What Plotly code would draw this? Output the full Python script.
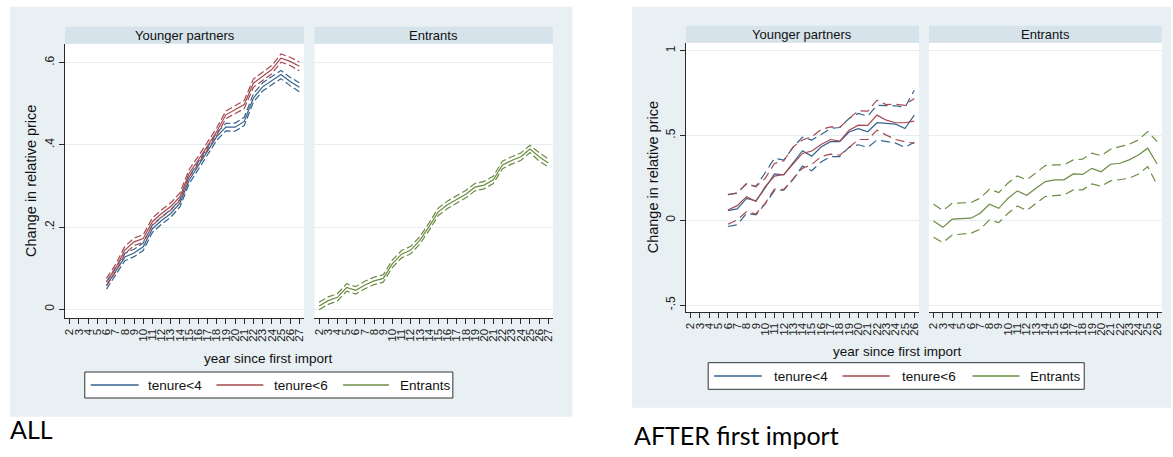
import plotly.graph_objects as go

W, H = 1173, 457

# ---------------- Data: "ALL" ----------------
years_yp_all = list(range(6, 28))
t4_all = [0.058, 0.094, 0.127, 0.137, 0.152, 0.196, 0.216, 0.233, 0.258, 0.314, 0.350,
          0.384, 0.420, 0.443, 0.443, 0.457, 0.514, 0.541, 0.557, 0.571, 0.554, 0.540]
t4_all_lo = [0.049, 0.085, 0.118, 0.128, 0.143, 0.187, 0.207, 0.224, 0.249, 0.305, 0.341,
             0.375, 0.411, 0.434, 0.433, 0.447, 0.504, 0.531, 0.547, 0.561, 0.544, 0.529]
t4_all_hi = [0.067, 0.103, 0.136, 0.146, 0.161, 0.205, 0.225, 0.242, 0.267, 0.323, 0.359,
             0.393, 0.429, 0.452, 0.453, 0.467, 0.524, 0.551, 0.567, 0.581, 0.564, 0.551]
t6_all = [0.066, 0.100, 0.144, 0.164, 0.172, 0.213, 0.233, 0.250, 0.274, 0.331, 0.363,
          0.396, 0.432, 0.473, 0.485, 0.498, 0.550, 0.567, 0.583, 0.611, 0.603, 0.591]
t6_all_lo = [0.057, 0.091, 0.135, 0.155, 0.163, 0.204, 0.224, 0.241, 0.265, 0.322, 0.354,
             0.387, 0.423, 0.464, 0.476, 0.488, 0.540, 0.557, 0.573, 0.601, 0.593, 0.580]
t6_all_hi = [0.075, 0.109, 0.153, 0.173, 0.181, 0.222, 0.242, 0.259, 0.283, 0.340, 0.372,
             0.405, 0.441, 0.482, 0.494, 0.508, 0.560, 0.577, 0.593, 0.621, 0.613, 0.602]

years_ent_all = list(range(2, 28))
ent_all = [0.008, 0.021, 0.029, 0.053, 0.046, 0.059, 0.069, 0.075, 0.111, 0.134, 0.144, 0.168, 0.201,
           0.237, 0.254, 0.268, 0.280, 0.297, 0.302, 0.315, 0.351, 0.362, 0.371, 0.390, 0.371, 0.356]
ent_all_lo = [-0.001, 0.012, 0.020, 0.044, 0.037, 0.050, 0.060, 0.066, 0.102, 0.125, 0.135, 0.159, 0.192,
              0.228, 0.245, 0.259, 0.271, 0.288, 0.293, 0.306, 0.342, 0.353, 0.362, 0.381, 0.361, 0.346]
ent_all_hi = [0.017, 0.030, 0.038, 0.062, 0.055, 0.068, 0.078, 0.084, 0.120, 0.143, 0.153, 0.177, 0.210,
              0.246, 0.263, 0.277, 0.289, 0.306, 0.311, 0.324, 0.360, 0.371, 0.380, 0.399, 0.381, 0.366]

# ---------------- Data: "AFTER first import" ----------------
years_yp_aft = list(range(6, 27))
t4_aft = [0.057, 0.067, 0.129, 0.114, 0.190, 0.273, 0.267, 0.339, 0.410, 0.378, 0.432,
          0.463, 0.463, 0.520, 0.540, 0.522, 0.575, 0.571, 0.567, 0.541, 0.620]
t4_aft_lo = [-0.037, -0.027, 0.041, 0.031, 0.096, 0.175, 0.178, 0.241, 0.320, 0.292, 0.343,
             0.375, 0.375, 0.430, 0.445, 0.430, 0.473, 0.465, 0.455, 0.430, 0.460]
t4_aft_hi = [0.153, 0.159, 0.218, 0.198, 0.280, 0.365, 0.355, 0.430, 0.490, 0.473, 0.506,
             0.541, 0.547, 0.600, 0.630, 0.614, 0.678, 0.675, 0.675, 0.665, 0.767]
t6_aft = [0.060, 0.086, 0.139, 0.110, 0.198, 0.260, 0.270, 0.335, 0.394, 0.408, 0.447,
          0.476, 0.467, 0.531, 0.561, 0.559, 0.620, 0.590, 0.575, 0.575, 0.584]
t6_aft_lo = [-0.024, 0.002, 0.051, 0.037, 0.100, 0.184, 0.182, 0.241, 0.306, 0.329, 0.375,
             0.390, 0.384, 0.429, 0.476, 0.476, 0.531, 0.502, 0.476, 0.463, 0.453]
t6_aft_hi = [0.149, 0.163, 0.214, 0.198, 0.247, 0.335, 0.351, 0.433, 0.473, 0.492, 0.535,
             0.551, 0.547, 0.600, 0.645, 0.643, 0.708, 0.682, 0.684, 0.678, 0.718]

years_ent_aft = list(range(2, 27))
ent_aft = [-0.004, -0.042, 0.006, 0.008, 0.012, 0.041, 0.094, 0.070, 0.130, 0.173, 0.147, 0.189, 0.228,
           0.238, 0.238, 0.273, 0.270, 0.306, 0.286, 0.330, 0.336, 0.356, 0.385, 0.425, 0.332]
ent_aft_lo = [-0.100, -0.132, -0.087, -0.083, -0.077, -0.053, 0.002, -0.014, 0.041, 0.084, 0.057, 0.100, 0.140,
              0.145, 0.149, 0.179, 0.179, 0.214, 0.200, 0.232, 0.238, 0.247, 0.273, 0.316, 0.208]
ent_aft_hi = [0.094, 0.057, 0.100, 0.100, 0.104, 0.130, 0.183, 0.163, 0.220, 0.261, 0.238, 0.280, 0.322,
              0.326, 0.326, 0.356, 0.360, 0.395, 0.381, 0.419, 0.434, 0.448, 0.474, 0.523, 0.464]

# Axis ticks / labels
xticks_all = list(range(2, 28))
xticks_aft = list(range(2, 27))
yticks_all = [0, 0.2, 0.4, 0.6]
ylabels_all = ["0", ".2", ".4", ".6"]
yticks_aft = [-0.5, 0, 0.5, 1]
ylabels_aft = ["-.5", "0", ".5", "1"]

series_names = ["tenure<4", "tenure<6", "Entrants"]
panel_titles = ["Younger partners", "Entrants"]
captions = ["ALL", "AFTER first import"]

# ---------------- Style ----------------
BLUE = "#35628d"
RED = "#a64950"
GREEN = "#6c8c43"
BG = "#e8f0f3"
STRIP = "#d7e3ea"
GRID = "#e4edf0"
AX = "#2a2a2a"
FONT = "Liberation Sans, Arial, sans-serif"


def px(xp):
    return xp / W


def py(yp):
    return 1 - yp / H


fig = go.Figure()


def add_band(x, mid, lo, hi, color, xa, ya, dash):
    for arr, d in ((lo, dash), (hi, dash), (mid, "solid")):
        fig.add_trace(go.Scatter(x=x, y=arr, mode="lines", xaxis=xa, yaxis=ya,
                                 line=dict(color=color, width=1.2, dash=d),
                                 showlegend=False, hoverinfo="skip"))


DASH_ALL = "7px,3px"
DASH_AFT = "9px,5px"

add_band(years_yp_all, t4_all, t4_all_lo, t4_all_hi, BLUE, "x", "y", DASH_ALL)
add_band(years_yp_all, t6_all, t6_all_lo, t6_all_hi, RED, "x", "y", DASH_ALL)
add_band(years_ent_all, ent_all, ent_all_lo, ent_all_hi, GREEN, "x2", "y2", DASH_ALL)
add_band(years_yp_aft, t4_aft, t4_aft_lo, t4_aft_hi, BLUE, "x3", "y3", DASH_AFT)
add_band(years_yp_aft, t6_aft, t6_aft_lo, t6_aft_hi, RED, "x3", "y3", DASH_AFT)
add_band(years_ent_aft, ent_aft, ent_aft_lo, ent_aft_hi, GREEN, "x4", "y4", DASH_AFT)

# plot geometry (pixels)
L = dict(top=43.7, bot=318.3, p1=(63.3, 302.7), p2=(313.3, 552.3))
R = dict(top=42.7, bot=312.3, p1=(685.7, 919.3), p2=(929.3, 1162.7))

TICKFONT = dict(family=FONT, size=11.5, color="#222")
xcommon = dict(ticks="outside", ticklen=5, tickwidth=1, tickcolor=AX, showline=True,
               linecolor=AX, linewidth=1, showgrid=False, zeroline=False, tickangle=-90,
               tickfont=TICKFONT, fixedrange=True)
ycommon = dict(showgrid=True, gridcolor=GRID, gridwidth=1, zeroline=False, fixedrange=True)

fig.update_layout(
    xaxis=dict(domain=[px(L["p1"][0]), px(L["p1"][1])], range=[1.5, 27.5], anchor="y",
               tickvals=xticks_all, ticktext=[str(v) for v in xticks_all], **xcommon),
    xaxis2=dict(domain=[px(L["p2"][0]), px(L["p2"][1])], range=[1.5, 27.5], anchor="y2",
                tickvals=xticks_all, ticktext=[str(v) for v in xticks_all], **xcommon),
    xaxis3=dict(domain=[px(R["p1"][0]), px(R["p1"][1])], range=[1.5, 26.5], anchor="y3",
                tickvals=xticks_aft, ticktext=[str(v) for v in xticks_aft], **xcommon),
    xaxis4=dict(domain=[px(R["p2"][0]), px(R["p2"][1])], range=[1.5, 26.5], anchor="y4",
                tickvals=xticks_aft, ticktext=[str(v) for v in xticks_aft], **xcommon),
    yaxis=dict(domain=[py(L["bot"]), py(L["top"])], range=[-0.022, 0.646], anchor="x",
               tickvals=yticks_all, ticktext=ylabels_all, ticks="outside", ticklen=5,
               tickcolor=AX, showline=True, linecolor=AX, linewidth=1, tickangle=-90,
               tickfont=dict(family=FONT, size=12, color="#222"), **ycommon),
    yaxis2=dict(domain=[py(L["bot"]), py(L["top"])], range=[-0.022, 0.646], anchor="x2",
                tickvals=yticks_all, showticklabels=False, ticks="", showline=False, **ycommon),
    yaxis3=dict(domain=[py(R["bot"]), py(R["top"])], range=[-0.543, 1.047], anchor="x3",
                tickvals=yticks_aft, ticktext=ylabels_aft, ticks="outside", ticklen=5,
                tickcolor=AX, showline=True, linecolor=AX, linewidth=1, tickangle=-90,
                tickfont=dict(family=FONT, size=12, color="#222"), **ycommon),
    yaxis4=dict(domain=[py(R["bot"]), py(R["top"])], range=[-0.543, 1.047], anchor="x4",
                tickvals=yticks_aft, showticklabels=False, ticks="", showline=False, **ycommon),
)

shapes = []


def rect(x0, y0, x1, y1, fill, line=None, layer="below"):
    shapes.append(dict(type="rect", xref="paper", yref="paper", x0=px(x0), x1=px(x1),
                       y0=py(y1), y1=py(y0), fillcolor=fill, layer=layer,
                       line=dict(width=1 if line else 0, color=line or fill)))


# graph regions
rect(8, 6.7, 572, 416.7, BG)
rect(631.7, 6.7, 1172, 407.7, BG)
# plot regions (white) and strips
for G in (L, R):
    for p in (G["p1"], G["p2"]):
        rect(p[0], G["top"], p[1], G["bot"], "white")
        rect(p[0], G["top"] - 17, p[1], G["top"], STRIP)

annotations = []


def text(x, y, s, size=13, xanchor="center", yanchor="middle", angle=0, family=FONT, color="#111"):
    annotations.append(dict(x=px(x), y=py(y), xref="paper", yref="paper", text=s, showarrow=False,
                            xanchor=xanchor, yanchor=yanchor, textangle=angle,
                            font=dict(family=family, size=size, color=color)))


for G in (L, R):
    for p, t in zip((G["p1"], G["p2"]), panel_titles):
        text((p[0] + p[1]) / 2, G["top"] - 8.5, t, size=13)

text(29, (L["top"] + L["bot"]) / 2, "Change in relative price", size=14.5, angle=-90)
text(652.5, (R["top"] + R["bot"]) / 2, "Change in relative price", size=14.5, angle=-90)
text(267.5, 358, "year since first import", size=13.5)
text(897.5, 351.7, "year since first import", size=13.5)

# legends (manual boxes)
legend_specs = [
    dict(box=(83, 372, 452, 398), yc=385,
         lines=[(89, 137), (215, 262), (342, 388)], texts=[144, 271, 397]),
    dict(box=(708, 362.7, 1085, 389.3), yc=376,
         lines=[(714, 761.7), (842.7, 890), (973, 1020)], texts=[771.7, 900, 1029]),
]
for spec in legend_specs:
    x0, y0, x1, y1 = spec["box"]
    rect(x0, y0, x1, y1, "white", line="#333", layer="above")
    for (a, b), tx, col, name in zip(spec["lines"], spec["texts"], (BLUE, RED, GREEN), series_names):
        shapes.append(dict(type="line", xref="paper", yref="paper", x0=px(a), x1=px(b),
                           y0=py(spec["yc"]), y1=py(spec["yc"]), line=dict(color=col, width=1.3)))
        text(tx, spec["yc"], name, size=13.5, xanchor="left")

# captions
text(6, 429, captions[0], size=25, xanchor="left", family="Lato, sans-serif", color="#000")
text(632, 435, captions[1], size=25, xanchor="left", family="Lato, sans-serif", color="#000")

fig.update_layout(
    width=W, height=H, margin=dict(l=0, r=0, t=0, b=0),
    paper_bgcolor="white", plot_bgcolor="white",
    shapes=shapes, annotations=annotations, showlegend=False,
    font=dict(family=FONT),
)

fig.write_html("out.html", config={"displayModeBar": False})
